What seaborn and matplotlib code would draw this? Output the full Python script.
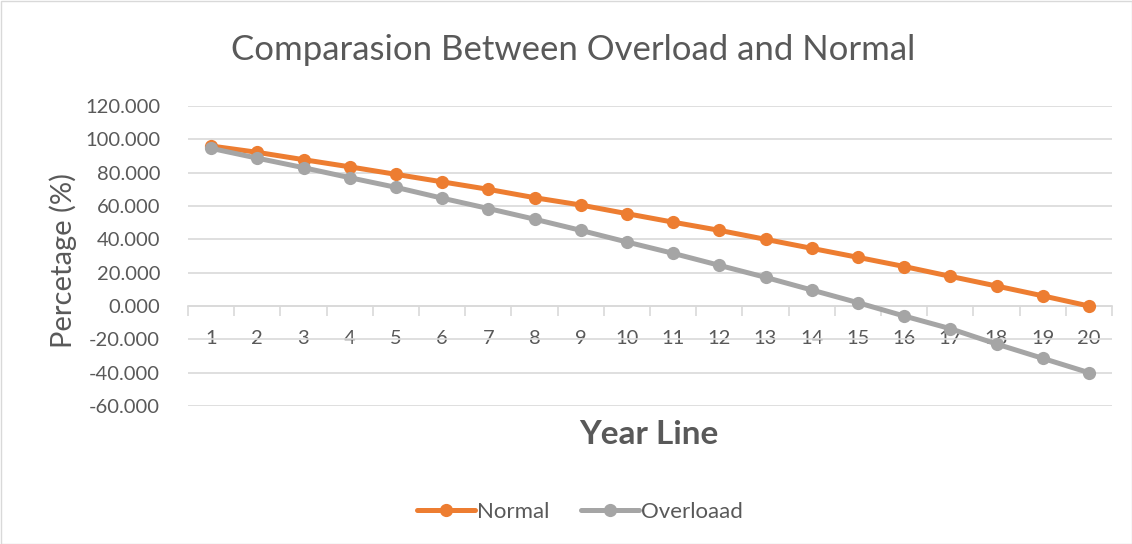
import matplotlib
matplotlib.use("Agg")
import matplotlib.pyplot as plt
import seaborn as sns
import pandas as pd
import numpy as np
from matplotlib.lines import Line2D
from matplotlib.patches import Rectangle

years = list(range(1, 21))
normal = [96.0, 92.2, 87.8, 83.5, 79.0, 74.5, 70.0, 65.0, 60.6, 55.4,
          50.3, 45.4, 40.0, 34.6, 29.2, 23.7, 17.8, 12.0, 6.1, 0.0]
overload = [94.6, 88.7, 83.0, 77.0, 71.2, 64.7, 58.5, 52.1, 45.4, 38.4,
            31.6, 24.4, 17.2, 9.6, 2.0, -6.0, -13.6, -22.8, -31.4, -40.0]
series_names = ["Normal", "Overloaad"]
colors = ["#ED7D31", "#A5A5A5"]
yticks = [-60, -40, -20, 0, 20, 40, 60, 80, 100, 120]

df = pd.DataFrame({
    "Year": years * 2,
    "Value": normal + overload,
    "Series": [series_names[0]] * 20 + [series_names[1]] * 20,
})

sns.set_theme(style="white")
plt.rcParams['font.family'] = ['Lato', 'DejaVu Sans']
txt = "#595959"
tick_fs = 14.5
lw = 3.6
ms = 9.5

fig = plt.figure(figsize=(11.32, 5.44), dpi=100)
ax = fig.add_axes([188/1132, 1-406/544, (1112-188)/1132, 300/544])

sns.lineplot(data=df, x="Year", y="Value", hue="Series", palette=colors,
             marker="o", markersize=ms, markeredgewidth=0, linewidth=lw,
             ax=ax, legend=False, zorder=3)

ax.set_xlim(0.5, 20.5)
ax.set_ylim(-60, 120)
ax.set_yticks(yticks)
ax.set_yticklabels([f"{v:.3f}" for v in yticks])
ax.yaxis.grid(True, color="#D9D9D9", linewidth=1.2)
ax.tick_params(axis="y", length=0, pad=20, labelsize=tick_fs, labelcolor=txt)

ax.set_xticks(years)
ax.set_xticklabels([str(y) for y in years])
ax.set_xticks(np.arange(0.5, 21, 1.0), minor=True)
ax.tick_params(axis="x", which="major", length=0, pad=17, labelsize=tick_fs, labelcolor=txt)
ax.tick_params(axis="x", which="minor", length=7, width=1.2, color="#D9D9D9",
               direction="out", bottom=True, labelbottom=False)

for s in ["top", "right", "left"]:
    ax.spines[s].set_visible(False)
ax.spines["bottom"].set_position(("data", 0))
ax.spines["bottom"].set_color("#D9D9D9")
ax.spines["bottom"].set_linewidth(1.2)

ax.set_xlabel("")
ax.set_ylabel("")
fig.text(63/1132, 1-260/544, "Percetage (%)", rotation=90, ha="center", va="center",
         color=txt, fontsize=21)
fig.text(649/1132, 1-435/544, "Year Line", ha="center", va="center",
         color=txt, fontsize=24, fontweight="bold")
fig.text(573/1132, 1-50/544, "Comparasion Between Overload and Normal", ha="center",
         va="center", color=txt, fontsize=25)

handles = [Line2D([], [], color=c, linewidth=lw, marker="o", markersize=ms,
                  markeredgewidth=0) for c in colors]
fig.legend(handles, series_names, loc="center", bbox_to_anchor=(580/1132, 1-512/544),
           ncol=2, frameon=False, fontsize=16, handlelength=2.6, handletextpad=0.1,
           columnspacing=1.4, labelcolor=txt)

fig.patches.append(Rectangle((0.5/1132, 0.5/544), 1-1/1132, 1-1/544, transform=fig.transFigure,
                             fill=False, edgecolor="#D9D9D9", linewidth=1))

fig.savefig("out.png", dpi=100, facecolor="white")
